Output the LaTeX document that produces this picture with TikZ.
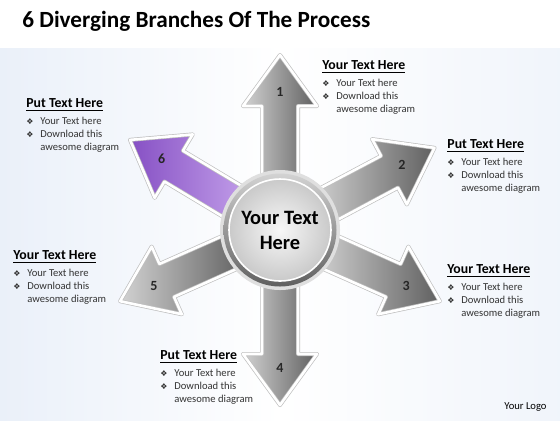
\documentclass[tikz,border=0pt]{standalone}
\usepackage{fontspec}
\setmainfont{Carlito}
\newfontfamily\symfont{DejaVu Sans}
\usepackage{xcolor}
\usetikzlibrary{positioning}
\definecolor{bgblue}{HTML}{EAF0F9}
\definecolor{violetA}{HTML}{8650C4}
\definecolor{violetB}{HTML}{C3A0EA}
\newcommand{\bul}{\makebox[7pt][l]{\symfont\fontsize{4}{4}\selectfont ❖}}
\newcommand{\blurbtext}{\bul Your Text here\\ \bul Download this\\ \hspace*{7pt}awesome diagram}

\begin{document}
\begin{tikzpicture}[x=0.5pt,y=-0.5pt,
    head/.style={anchor=base west, inner sep=0pt, font=\bfseries\fontsize{6.9}{8}\selectfont},
    blurb/.style={anchor=north west, inner sep=0pt, align=left, text=black!80, font=\fontsize{5.3}{6.6}\selectfont},
    num/.style={font=\bfseries\fontsize{7}{8}\selectfont, text=black!85},
    branch/.style={draw=gray!50, double=white, double distance=1.3pt, line width=0.35pt, line join=round,
        left color=gray!35, right color=gray!75!black},
    hub/.style={circle, minimum size=51pt, inner sep=0pt, draw=white, line width=0.8pt,
        inner color=gray!6, outer color=gray!42, align=center,
        font=\bfseries\fontsize{10.2}{12.5}\selectfont}]
    \useasboundingbox (0,0) rectangle (560,420);
    \fill[white] (0,0) rectangle (560,420);
    \shade[left color=bgblue, right color=white] (0,48) rectangle (280,420);
    \shade[left color=white, right color=bgblue!70!white] (280,48) rectangle (560,420);
    \node[anchor=base west, inner sep=0pt, font=\bfseries\fontsize{11.6}{13}\selectfont] (title) at (22,27)
        {6 Diverging Branches Of The Process};

    \coordinate (c) at (280,230);
    % six branches around the hub
    \foreach \ang/\k in {90/1, 28/2, -24/3, -90/4, 204/5} {
        \begin{scope}[shift={(c)}, rotate=\ang]
            \path[branch] (45,-18) -- (124,-18) -- (124,-37) -- (175,0) -- (124,37) -- (124,18) -- (45,18) -- cycle;
            \node[num] (n\k) at (138,0) {\k};
        \end{scope}
    }
    \begin{scope}[shift={(c)}, rotate=149]
        \path[branch, left color=violetA, right color=violetB] (45,-18) -- (124,-18) -- (124,-37) -- (175,0) -- (124,37) -- (124,18) -- (45,18) -- cycle;
        \node[num] (n6) at (138,0) {6};
    \end{scope}

    % hub
    \fill[gray!25] (c) circle (60);
    \shade[top color=gray!35, bottom color=gray!75!black] (c) circle (56.5);
    \node[hub] (hub) at (c) {Your Text\\Here};

    % text blocks
    \node[head] (h1) at (322,69) {\underline{Your Text Here}};
    \node[blurb, below=2.5pt of h1.south west, anchor=north west] (b1) {\blurbtext};
    \node[head] (h2) at (447,148) {\underline{Put Text Here}};
    \node[blurb, below=2.5pt of h2.south west, anchor=north west] (b2) {\blurbtext};
    \node[head] (h3) at (447,273) {\underline{Your Text Here}};
    \node[blurb, below=2.5pt of h3.south west, anchor=north west] (b3) {\blurbtext};
    \node[head] (h4) at (160,359) {\underline{Put Text Here}};
    \node[blurb, below=2.5pt of h4.south west, anchor=north west] (b4) {\blurbtext};
    \node[head] (h5) at (13,259) {\underline{Your Text Here}};
    \node[blurb, below=2.5pt of h5.south west, anchor=north west] (b5) {\blurbtext};
    \node[head] (h6) at (26,107) {\underline{Put Text Here}};
    \node[blurb, below=2.5pt of h6.south west, anchor=north west] (b6) {\blurbtext};

    \node[anchor=base west, inner sep=0pt, font=\fontsize{5.3}{6.5}\selectfont] (logo) at (504,409) {Your Logo};
\end{tikzpicture}
\end{document}
